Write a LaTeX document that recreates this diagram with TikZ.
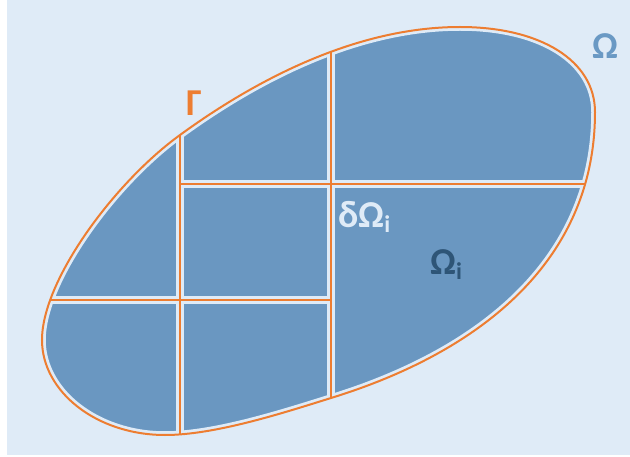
\documentclass[tikz,border=0pt]{standalone}
\usepackage{fontspec}
\setmainfont{Carlito}
\definecolor{bgc}{HTML}{DFEBF7}
\definecolor{fillc}{HTML}{6A97C1}
\definecolor{orc}{HTML}{ED7D31}
\definecolor{darkc}{HTML}{2E5577}
\definecolor{omc}{HTML}{6A99C4}
\tikzset{
  gapline/.style={draw=bgc, line width=7.5pt},
  orline/.style={draw=orc, line width=2pt},
  lbl/.style={font=\fontsize{38}{38}\selectfont\bfseries, inner sep=0pt},
}
\newcommand{\blobpath}{(460,27) .. controls (541,27) and (595,61) .. (595,112)
 .. controls (595,265) and (474,354) .. (331,398)
 .. controls (283,413) and (215,435) .. (165,435)
 .. controls (97,435) and (42,392) .. (42,340)
 .. controls (42,280) and (115,182) .. (180,135)
 .. controls (261,76) and (360,27) .. (460,27) -- cycle}
\newcommand{\subi}{\raisebox{-5pt}{\fontsize{24}{24}\selectfont i}}
\begin{document}
\begin{tikzpicture}[x=1pt,y=-1pt]
\useasboundingbox (0,0) rectangle (630,457);
\fill[bgc] (7,0) rectangle (630,455);
\coordinate (v1t) at (180,80);
\coordinate (v1b) at (180,460);
\coordinate (v2t) at (331,10);
\coordinate (v2b) at (331,440);
\coordinate (h1l) at (180,184);
\coordinate (h1r) at (630,184);
\coordinate (h2l) at (10,300);
\coordinate (h2r) at (331,300);
\fill[fillc] \blobpath;
\begin{scope}
  \clip \blobpath;
  \draw[gapline] (v1t) -- (v1b) (v2t) -- (v2b) (h1l) -- (h1r) (h2l) -- (h2r);
\end{scope}
\draw[gapline] \blobpath;
\begin{scope}
  \clip \blobpath;
  \draw[orline] (v1t) -- (v1b) (v2t) -- (v2b) (h1l) -- (h1r) (h2l) -- (h2r);
\end{scope}
\draw[orline] \blobpath;
\node[lbl, text=omc] (omega) at (605,46) {Ω};
\node[lbl, text=orc] (gamma) at (194,103) {Γ};
\node[lbl, text=bgc, anchor=base west] (domega) at (338,228) {δΩ\subi};
\node[lbl, text=darkc, anchor=base west] (omegai) at (430,275) {Ω\subi};
\end{tikzpicture}
\end{document}
